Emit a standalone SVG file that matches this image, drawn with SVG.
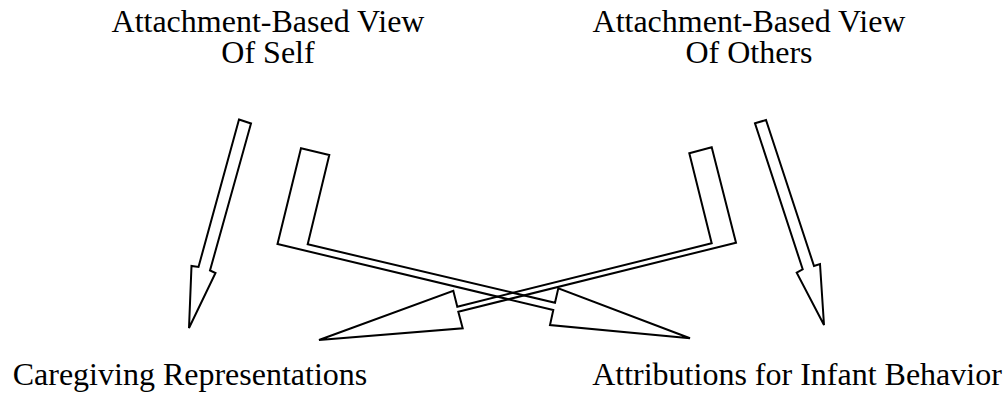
<svg xmlns="http://www.w3.org/2000/svg" width="1005" height="393" viewBox="0 0 1005 393">
  <style>
    .lbl { font-family: "Liberation Serif", "Times New Roman", serif; font-size: 32px; fill: #000; text-anchor: middle; }
    .arrow { fill: none; stroke: #000; stroke-width: 2; stroke-linejoin: miter; }
  </style>
  <rect width="1005" height="393" fill="#fff"/>

  <!-- labels -->
  <g id="view-of-self">
    <text class="lbl" x="268" y="32">Attachment-Based View</text>
    <text class="lbl" x="268" y="63">Of Self</text>
  </g>
  <g id="view-of-others">
    <text class="lbl" x="749" y="32">Attachment-Based View</text>
    <text class="lbl" x="749" y="63">Of Others</text>
  </g>
  <g id="caregiving">
    <text class="lbl" x="190" y="385">Caregiving Representations</text>
  </g>
  <g id="attributions">
    <text class="lbl" x="797" y="385">Attributions for Infant Behavior</text>
  </g>

  <!-- block arrows -->
  <g id="connectors">
    <polygon class="arrow" points="239,119.5 251,123.5 210,270.5 215.5,273 189,328 191.5,266 198.5,267"/>
    <polygon class="arrow" points="755,123.3 766,120 814,266 820,264 824,325 796.7,272.7 802.7,269.3"/>
    <polygon class="arrow" points="301,148.3 329.3,155 307.7,244.3 555,302.7 558.3,288.3 690,338.3 550,325 553.3,310 277.5,244"/>
    <polygon class="arrow" points="689.3,153.3 711.7,147.3 736,242.7 458.3,311.7 462.7,328.3 319,340 453.3,290.7 457.3,306.7 711.7,243.3"/>
  </g>
</svg>
